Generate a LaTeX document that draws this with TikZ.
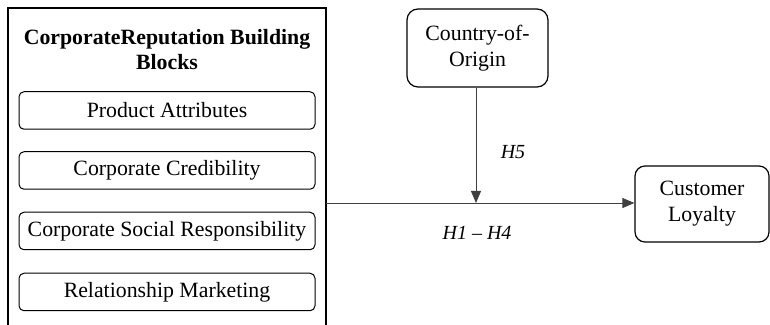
\documentclass[tikz,border=0pt]{standalone}
\usepackage{fontspec}
\setmainfont{Liberation Serif}
\usetikzlibrary{arrows.meta}

\tikzset{
  blockbox/.style={draw, rounded corners=2.5pt, line width=0.5pt, minimum width=148pt, minimum height=18.75pt, inner sep=0pt},
  varbox/.style={draw, rounded corners=5.5pt, line width=0.6pt, align=center, inner sep=0pt},
  hyplabel/.style={inner sep=0pt, font=\itshape},
  linkarrow/.style={draw=black!75, line width=0.45pt, -{Triangle[length=6pt,width=5pt]}},
}

\begin{document}
\begin{tikzpicture}[x=0.5pt,y=0.5pt,yscale=-1,xscale=1,font=\fontsize{10.9}{13}\selectfont]
\useasboundingbox (0,0) rectangle (770,325);

%Outer frame of the building blocks (open at the bottom)
\draw [line width=0.8pt] (8,326) -- (8,8) -- (326,8) -- (326,326) ;
\coordinate (blocksout) at (326,203);

% Text Node
\node (title) at (167,50) [align=center, inner sep=0pt, font=\fontsize{10.9}{12.5}\selectfont\bfseries] {CorporateReputation Building\\Blocks};

%Shape: Rounded Rect
\node (prod) at (167,110.5) [blockbox] {Product Attributes};
\node (cred) at (167,170.5) [blockbox] {Corporate Credibility};
\node (csr) at (167,231) [blockbox] {Corporate Social Responsibility};
\node (rel) at (167,292) [blockbox] {Relationship Marketing};

%Shape: Rounded Rect
\node (coo) at (477.5,48) [varbox, minimum width=70.5pt, minimum height=39pt] {Country-of-\\Origin};
\node (loyal) at (702,204) [varbox, rounded corners=5pt, minimum width=67pt, minimum height=38pt] {Customer\\Loyalty};

%Straight Lines
\coordinate (moderate) at (476,203);
\draw [linkarrow] (blocksout) -- (loyal.west |- blocksout) ;
\draw [linkarrow] (coo.south -| moderate) -- (moderate) ;

% Text Node
\node (h5) at (513,152) [hyplabel] {H5};
% Text Node
\node (h14) at (477,233) [hyplabel] {H1 -- H4};

\end{tikzpicture}
\end{document}
